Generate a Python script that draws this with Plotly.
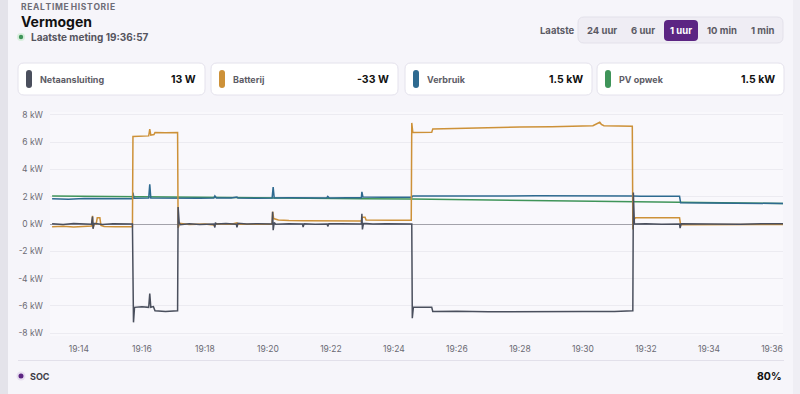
import plotly.graph_objects as go

DAY = "2024-01-01 "

# ---------------- data (kW) ----------------
NET_T = ["19:13:09", "19:13:30", "19:13:50", "19:14:10", "19:14:24", "19:14:26", "19:14:27", "19:14:29",
         "19:14:45", "19:15:05", "19:15:25", "19:15:42", "19:15:44", "19:15:46", "19:16:00", "19:16:13",
         "19:16:15", "19:16:17", "19:16:22", "19:16:25", "19:16:45", "19:17:08", "19:17:09", "19:17:11",
         "19:17:13", "19:17:30", "19:17:50", "19:18:17", "19:18:19", "19:18:20", "19:18:22", "19:18:40",
         "19:19:00", "19:19:01", "19:19:03", "19:19:20", "19:19:40", "19:20:00", "19:20:08", "19:20:09",
         "19:20:10", "19:20:12", "19:20:15", "19:20:40", "19:21:06", "19:21:07", "19:21:09", "19:21:30",
         "19:21:53", "19:21:54", "19:21:56", "19:22:20", "19:22:40", "19:22:58", "19:22:59", "19:23:00",
         "19:23:02", "19:23:20", "19:23:45", "19:24:10", "19:24:34", "19:24:35", "19:24:37", "19:24:55",
         "19:25:12", "19:25:14", "19:26:00", "19:27:00", "19:28:00", "19:29:00", "19:30:00", "19:31:00",
         "19:31:34", "19:31:35", "19:31:36", "19:31:38", "19:32:00", "19:32:30", "19:33:04", "19:33:05",
         "19:33:07", "19:33:40", "19:34:20", "19:35:00", "19:35:40", "19:36:21"]
NET_KW = [0.02, -0.03, 0.03, 0.0, -0.02, 0.55, -0.35, 0.05,
          -0.03, 0.02, -0.02, 0.0, -7.2, -6.1, -6.05, -6.1,
          -5.1, -6.1, -6.05, -6.35, -6.4, -6.35, 1.25, 0.1,
          -0.05, 0.02, -0.03, 0.0, -0.25, 0.1, 0.0, 0.03,
          -0.02, -0.25, 0.05, 0.0, 0.02, -0.01, 0.0, 0.9,
          -0.45, 0.1, -0.02, 0.01, 0.0, -0.22, 0.02, -0.02,
          0.0, -0.18, 0.02, 0.01, -0.02, 0.0, 0.75, -0.4,
          0.05, 0.0, 0.02, -0.01, 0.0, -6.9, -6.1, -6.1,
          -6.1, -6.4, -6.38, -6.42, -6.4, -6.38, -6.41, -6.4,
          -6.4, -6.35, 2.3, 0.0, 0.02, -0.02, 0.0, -0.3,
          0.02, 0.0, 0.02, -0.01, 0.01, 0.013]

BAT_T = ["19:13:09", "19:13:30", "19:13:50", "19:14:10", "19:14:24", "19:14:26", "19:14:27", "19:14:29",
         "19:14:33", "19:14:35", "19:14:40", "19:14:42", "19:14:48", "19:15:10", "19:15:42", "19:15:43",
         "19:16:00", "19:16:13", "19:16:15", "19:16:17", "19:16:23", "19:16:25", "19:16:45", "19:17:08",
         "19:17:09", "19:17:12", "19:17:30", "19:18:00", "19:18:19", "19:18:21", "19:18:50", "19:19:01",
         "19:19:03", "19:19:30", "19:20:08", "19:20:09", "19:20:11", "19:20:20", "19:20:40", "19:21:10",
         "19:21:40", "19:22:10", "19:22:40", "19:22:58", "19:23:00", "19:23:05", "19:23:07", "19:23:30",
         "19:24:00", "19:24:33", "19:24:34", "19:24:36", "19:25:00", "19:25:12", "19:25:14", "19:26:00",
         "19:27:00", "19:28:00", "19:29:00", "19:30:00", "19:30:19", "19:30:32", "19:30:35", "19:30:40",
         "19:31:00", "19:31:34", "19:31:35", "19:31:37", "19:31:40", "19:32:10", "19:32:40", "19:33:04",
         "19:33:06", "19:33:30", "19:34:10", "19:34:50", "19:35:30", "19:36:21"]
BAT_KW = [-0.2, -0.17, -0.22, -0.18, -0.15, 0.6, -0.3, 0.0,
          0.0, 0.45, 0.45, -0.1, -0.18, -0.2, -0.2, 6.4,
          6.42, 6.45, 6.95, 6.5, 6.55, 6.7, 6.68, 6.7,
          -0.3, 0.05, -0.03, 0.0, -0.08, 0.02, -0.02, 0.08,
          -0.02, 0.0, -0.02, 0.9, 0.4, 0.3, 0.25, 0.23,
          0.22, 0.24, 0.22, 0.22, 0.5, 0.5, 0.3, 0.28,
          0.27, 0.28, 7.4, 6.7, 6.7, 6.72, 6.95, 7.0,
          7.05, 7.1, 7.12, 7.18, 7.2, 7.45, 7.3, 7.2,
          7.18, 7.15, -0.4, 0.3, 0.45, 0.46, 0.44, 0.45,
          -0.05, -0.04, -0.06, -0.05, -0.04, -0.033]

VER_T = ["19:13:09", "19:13:40", "19:14:10", "19:14:40", "19:15:10", "19:15:42", "19:15:43", "19:15:45",
         "19:16:13", "19:16:15", "19:16:17", "19:16:50", "19:17:20", "19:17:50", "19:18:17", "19:18:19",
         "19:18:22", "19:18:50", "19:19:01", "19:19:03", "19:19:40", "19:20:08", "19:20:10", "19:20:12",
         "19:20:40", "19:21:20", "19:21:52", "19:21:54", "19:21:57", "19:22:30", "19:22:58", "19:22:59",
         "19:23:01", "19:23:40", "19:24:10", "19:24:34", "19:24:36", "19:25:30", "19:26:30", "19:27:30",
         "19:28:30", "19:29:30", "19:30:20", "19:30:40", "19:31:10", "19:31:35", "19:31:50", "19:32:30",
         "19:33:04", "19:33:06", "19:33:40", "19:34:20", "19:35:00", "19:35:40", "19:36:21"]
VER_KW = [1.85, 1.82, 1.86, 1.84, 1.87, 1.85, 2.3, 1.88,
          1.9, 2.9, 1.9, 1.88, 1.9, 1.89, 1.9, 2.05,
          1.9, 1.91, 1.97, 1.9, 1.89, 1.9, 2.7, 1.9,
          1.92, 1.9, 1.91, 2.02, 1.9, 1.92, 1.93, 2.35,
          1.97, 1.96, 1.95, 1.96, 2.05, 2.04, 2.06, 2.05,
          2.07, 2.06, 2.08, 2.1, 2.06, 2.05, 2.03, 2.04,
          2.03, 1.55, 1.54, 1.52, 1.53, 1.51, 1.5]

PV_T = ["19:13:09", "19:14:00", "19:15:00", "19:15:43", "19:17:00", "19:18:30", "19:20:00", "19:21:30",
        "19:23:00", "19:24:34", "19:25:30", "19:26:30", "19:27:30", "19:28:30", "19:29:30", "19:30:30",
        "19:31:35", "19:32:20", "19:33:05", "19:34:00", "19:35:00", "19:36:21"]
PV_KW = [2.05, 2.03, 2.0, 1.97, 1.94, 1.9, 1.88, 1.86,
         1.85, 1.83, 1.8, 1.77, 1.74, 1.72, 1.69, 1.66,
         1.62, 1.6, 1.58, 1.55, 1.53, 1.5]

SERIES = ["Netaansluiting", "Batterij", "Verbruik", "PV opwek"]
CURRENT = ["13 W", "-33 W", "1.5 kW", "1.5 kW"]
COLORS = ["#4a4f5d", "#cd9138", "#2e6a90", "#3f9459"]

Y_TICKS = [-8, -6, -4, -2, 0, 2, 4, 6, 8]
Y_LABELS = ["-8 kW", "-6 kW", "-4 kW", "-2 kW", "0 kW", "2 kW", "4 kW", "6 kW", "8 kW"]
BUTTONS = ["24 uur", "6 uur", "1 uur", "10 min", "1 min"]
SELECTED = "1 uur"

# ---------------- layout helpers ----------------
W, H = 800, 394
L, R, T, B = 50, 17, 112, 58
PW, PH = W - L - R, H - T - B


def X(px):
    return (px - L) / PW


def Y(py):
    return (H - B - py) / PH


def rrect(x0, y0, x1, y1, r, fill, line="rgba(0,0,0,0)", lw=1):
    p = (f"M {X(x0 + r)},{Y(y0)} L {X(x1 - r)},{Y(y0)} Q {X(x1)},{Y(y0)} {X(x1)},{Y(y0 + r)} "
         f"L {X(x1)},{Y(y1 - r)} Q {X(x1)},{Y(y1)} {X(x1 - r)},{Y(y1)} "
         f"L {X(x0 + r)},{Y(y1)} Q {X(x0)},{Y(y1)} {X(x0)},{Y(y1 - r)} "
         f"L {X(x0)},{Y(y0 + r)} Q {X(x0)},{Y(y0)} {X(x0 + r)},{Y(y0)} Z")
    return dict(type="path", xref="paper", yref="paper", path=p, fillcolor=fill,
                line=dict(color=line, width=lw), layer="above")


def text(px, py, s, size=10, color="#222", bold=False, anchor="left", family="Inter"):
    return dict(x=X(px), y=Y(py), xref="paper", yref="paper", text=f"<b>{s}</b>" if bold else s,
                showarrow=False, xanchor=anchor, yanchor="middle",
                font=dict(size=size, color=color, family=family))


fig = go.Figure()

order = [3, 2, 1, 0]
data = [(NET_T, NET_KW), (BAT_T, BAT_KW), (VER_T, VER_KW), (PV_T, PV_KW)]
for i in order:
    t, v = data[i]
    fig.add_trace(go.Scatter(x=[DAY + s for s in t], y=v, mode="lines", name=SERIES[i],
                             line=dict(color=COLORS[i], width=1.5), showlegend=False,
                             hoverinfo="skip"))

shapes = []
annos = []

# side strips
shapes.append(dict(type="rect", xref="paper", yref="paper", x0=X(0), x1=X(8), y0=Y(H), y1=Y(0),
                   fillcolor="#e4e3ea", line=dict(width=0), layer="below"))
shapes.append(dict(type="rect", xref="paper", yref="paper", x0=X(793), x1=X(800), y0=Y(H), y1=Y(0),
                   fillcolor="#efeef4", line=dict(width=0), layer="below"))

# header
header = " ".join("\u200a".join(w) for w in "REALTIME HISTORIE".split(" "))
annos.append(text(19, 7, header, size=8.5, color="#6d6c76", bold=True))
annos.append(text(19, 21, "Vermogen", size=14, color="#111", bold=True))
shapes.append(dict(type="circle", xref="paper", yref="paper", x0=X(17), x1=X(25), y0=Y(41), y1=Y(33),
                   fillcolor="#d9eede", line=dict(width=0), layer="above"))
shapes.append(dict(type="circle", xref="paper", yref="paper", x0=X(18.8), x1=X(23.2), y0=Y(39.2), y1=Y(34.8),
                   fillcolor="#3f9459", line=dict(width=0), layer="above"))
annos.append(text(29, 37, "Laatste meting 19:36:57", size=10, color="#55545e", bold=True))

# button group
annos.append(text(557, 30, "Laatste", size=9.5, color="#5b5a64", bold=True, anchor="center"))
shapes.append(rrect(578, 17, 783, 43, 6, "#efedf4", "#e3e1ea"))
btn_x = [602, 643, 681, 722, 763]
for bx, lab in zip(btn_x, BUTTONS):
    if lab == SELECTED:
        shapes.append(rrect(664, 20, 698, 41, 4, "#5c2583"))
        annos.append(text(bx, 30.5, lab, size=9.5, color="#ffffff", bold=True, anchor="center"))
    else:
        annos.append(text(bx, 30.5, lab, size=9.5, color="#5b5a64", bold=True, anchor="center"))

# legend cards
card_x = [18, 211, 405, 597]
for cx, name, val, col in zip(card_x, SERIES, CURRENT, COLORS):
    shapes.append(rrect(cx, 63, cx + 187, 95, 6, "#ffffff", "#e4e2ec"))
    shapes.append(rrect(cx + 8, 70, cx + 14, 88, 3, col))
    annos.append(text(cx + 20, 79, name, size=9, color="#5d5c66", bold=True))
    annos.append(text(cx + 180, 79, val, size=10.5, color="#111", bold=True, anchor="right"))

# separator and SOC row
shapes.append(dict(type="line", xref="paper", yref="paper", x0=X(18), x1=X(784), y0=Y(360.5), y1=Y(360.5),
                   line=dict(color="#e2e0ea", width=1)))
shapes.append(dict(type="circle", xref="paper", yref="paper", x0=X(16.5), x1=X(25.5), y0=Y(380.5), y1=Y(371.5),
                   fillcolor="#e7dff0", line=dict(width=0), layer="above"))
shapes.append(dict(type="circle", xref="paper", yref="paper", x0=X(18.5), x1=X(23.5), y0=Y(378.5), y1=Y(373.5),
                   fillcolor="#5c2583", line=dict(width=0), layer="above"))
annos.append(text(28, 376, "SOC", size=9, color="#3e3d46", bold=True))
annos.append(text(784, 376, "80%", size=10.5, color="#111", bold=True, anchor="right"))

fig.update_layout(
    width=W, height=H,
    margin=dict(l=L, r=R, t=T, b=B, pad=0),
    paper_bgcolor="#f6f5fa",
    plot_bgcolor="#f9f8fc",
    font=dict(family="Inter", size=9, color="#66656e"),
    shapes=shapes,
    annotations=annos,
    showlegend=False,
    xaxis=dict(type="date", range=[DAY + "19:13:05", DAY + "19:36:21"],
               tick0=DAY + "19:14:00", dtick=120000, tickformat="%H:%M",
               showgrid=False, zeroline=False, showline=False, ticks="",
               tickfont=dict(size=8.5, color="#6b6a73"), ticklabelstandoff=6),
    yaxis=dict(range=[-8.2, 8.2], tickmode="array", tickvals=Y_TICKS, ticktext=Y_LABELS,
               showgrid=True, gridcolor="#ecebf1", gridwidth=1,
               zeroline=True, zerolinecolor="#a3a2aa", zerolinewidth=1,
               showline=False, ticks="", tickfont=dict(size=8.5, color="#6b6a73"),
               ticklabelstandoff=6),
)

fig.write_html("out.html")
